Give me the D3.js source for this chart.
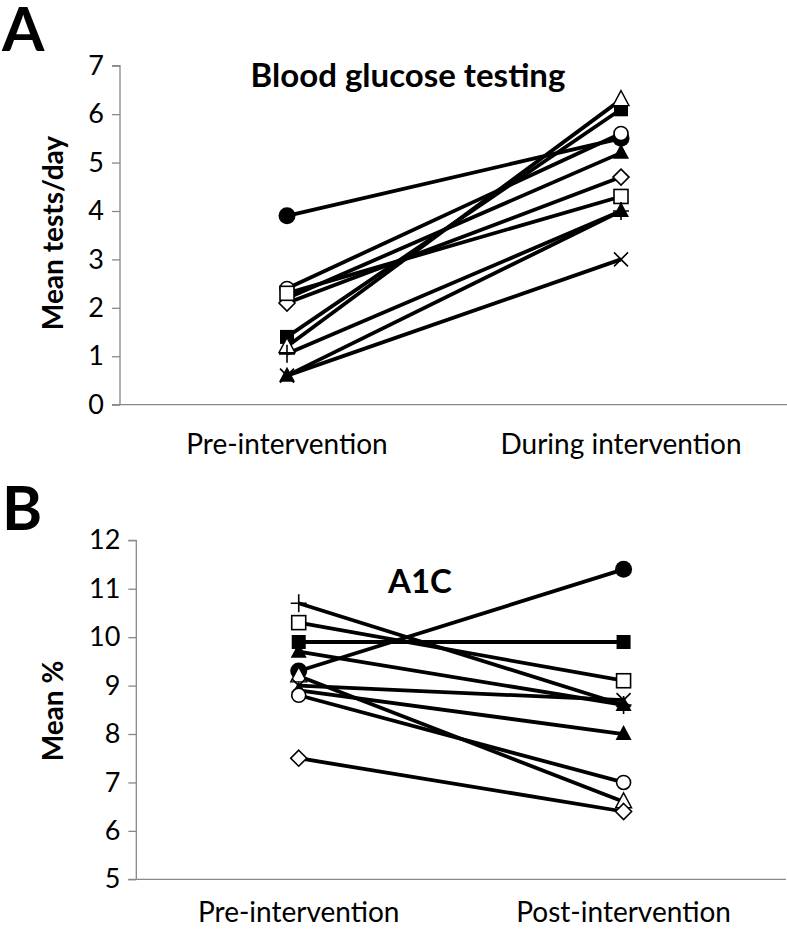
<!DOCTYPE html>
<html><head><meta charset="utf-8">
<script src="https://cdn.jsdelivr.net/npm/d3@7"></script>
<style>body{margin:0;background:#fff}svg{display:block}text{font-family:Lato,"Open Sans",sans-serif}</style>
</head><body><svg id="c" width="787" height="929"></svg>
<script>
// Panel A: blood glucose testing
const catsA = ["Pre-intervention", "During intervention"];
const seriesA = [
  {marker: "filledCircle",   values: [3.9, 5.5]},
  {marker: "openCircle",     values: [2.4, 5.6]},
  {marker: "filledTriangle", values: [2.2, 5.2]},
  {marker: "openDiamond",    values: [2.1, 4.7]},
  {marker: "openSquare",     values: [2.3, 4.3]},
  {marker: "filledSquare",   values: [1.4, 6.1]},
  {marker: "openTriangle",   values: [1.2, 6.3]},
  {marker: "plus",           values: [1.05, 4.0]},
  {marker: "cross",          values: [0.6, 3.0]},
  {marker: "filledTriangle", values: [0.6, 4.0]}
];
const ticksA = [0,1,2,3,4,5,6,7];

// Panel B: A1C
const catsB = ["Pre-intervention", "Post-intervention"];
const seriesB = [
  {marker: "plus",           values: [10.7, 8.6]},
  {marker: "openSquare",     values: [10.3, 9.1]},
  {marker: "filledSquare",   values: [9.9, 9.9]},
  {marker: "filledTriangle", values: [9.7, 8.6]},
  {marker: "filledCircle",   values: [9.3, 11.4]},
  {marker: "openTriangle",   values: [9.2, 6.6]},
  {marker: "cross",          values: [9.0, 8.7]},
  {marker: "filledTriangle", values: [8.9, 8.0]},
  {marker: "openCircle",     values: [8.8, 7.0]},
  {marker: "openDiamond",    values: [7.5, 6.4]}
];
const ticksB = [5,6,7,8,9,10,11,12];

const svg = d3.select("#c");

function drawMarker(g, type, x, y) {
  const s = g.append("g").attr("transform", `translate(${x},${y})`);
  switch (type) {
    case "filledCircle": s.append("circle").attr("r", 8.5).attr("fill", "#000"); break;
    case "openCircle": s.append("circle").attr("r", 7).attr("fill", "#fff").attr("stroke", "#000").attr("stroke-width", 1.6); break;
    case "filledSquare": s.append("rect").attr("x", -7).attr("y", -7).attr("width", 14).attr("height", 14).attr("fill", "#000"); break;
    case "openSquare": s.append("rect").attr("x", -7).attr("y", -7).attr("width", 14).attr("height", 14).attr("fill", "#fff").attr("stroke", "#000").attr("stroke-width", 1.6); break;
    case "filledTriangle": s.append("path").attr("d", "M0,-9L8,6L-8,6Z").attr("fill", "#000"); break;
    case "openTriangle": s.append("path").attr("d", "M0,-9L8,6L-8,6Z").attr("fill", "#fff").attr("stroke", "#000").attr("stroke-width", 1.4); break;
    case "openDiamond": s.append("path").attr("d", "M0,-8L8,0L0,8L-8,0Z").attr("fill", "#fff").attr("stroke", "#000").attr("stroke-width", 1.6); break;
    case "plus": s.append("path").attr("d", "M-8,0H8M0,-9V9").attr("stroke", "#000").attr("stroke-width", 1.6); break;
    case "cross": s.append("path").attr("d", "M-7,-7L7,7M-7,7L7,-7").attr("stroke", "#000").attr("stroke-width", 1.6); break;
  }
}

function panel(opts) {
  const {cats, series, ticks, xRange, yRange, title, titleX, titleY, titleSize, ylabel, ylabelX, ylabelY, letter, letterY, letterSize, catY} = opts;
  const x = d3.scaleBand().domain(cats).range(xRange).padding(0);
  const y = d3.scaleLinear().domain([ticks[0], ticks[ticks.length-1]]).range(yRange);
  const g = svg.append("g");

  // y axis
  const ya = g.append("g").attr("transform", `translate(${xRange[0]},0)`)
    .call(d3.axisLeft(y).tickValues(ticks).tickSize(8).tickPadding(8).tickFormat(d3.format("d")));
  ya.select(".domain").attr("stroke", "#888").attr("stroke-width", 1.3).attr("d", `M-8,${yRange[1]}H0V${yRange[0]}H-8`);
  ya.selectAll(".tick line").attr("stroke", "#888").attr("stroke-width", 1.3);
  ya.selectAll(".tick text").attr("font-size", 27).attr("fill", "#000").attr("font-family", "Lato, sans-serif");

  // x axis
  const xa = g.append("g").attr("transform", `translate(0,${yRange[0]})`)
    .call(d3.axisBottom(x).tickSize(0).tickPadding(18));
  xa.select(".domain").attr("stroke", "#888").attr("stroke-width", 1.3).attr("d", `M${xRange[0]},0H${xRange[1]}`);
  xa.selectAll(".tick text").attr("font-size", 28).attr("fill", "#000").attr("font-family", "Lato, sans-serif").attr("y", catY - yRange[0]).attr("dy", "0");

  // lines
  series.forEach(s => {
    const pts = s.values.map((v, i) => [x(cats[i]) + x.bandwidth()/2, y(v)]);
    g.append("path").attr("d", d3.line()(pts)).attr("fill", "none").attr("stroke", "#000").attr("stroke-width", 3.8);
  });
  series.forEach(s => {
    s.values.forEach((v, i) => drawMarker(g, s.marker, x(cats[i]) + x.bandwidth()/2, y(v)));
  });

  g.append("text").attr("x", titleX).attr("y", titleY).attr("text-anchor", "middle")
    .attr("font-size", titleSize).attr("font-weight", "bold").text(title);
  g.append("text").attr("transform", `translate(${ylabelX},${ylabelY}) rotate(-90)`).attr("text-anchor", "middle")
    .attr("font-size", 28).attr("font-weight", "bold").text(ylabel);
  g.append("text").attr("x", 2).attr("y", letterY).attr("font-size", letterSize).attr("font-weight", "bold")
    .attr("font-family", "'Liberation Sans', Arial, sans-serif").text(letter);
}

panel({cats: catsA, series: seriesA, ticks: ticksA, xRange: [120, 788], yRange: [404.7, 65.7],
  title: "Blood glucose testing", titleX: 408, titleY: 87, titleSize: 33, ylabel: "Mean tests/day", ylabelX: 63, ylabelY: 233,
  letter: "A", letterY: 51, letterSize: 61, catY: 454});
panel({cats: catsB, series: seriesB, ticks: ticksB, xRange: [136.3, 786], yRange: [879.3, 540.3],
  title: "A1C", titleX: 420, titleY: 593, titleSize: 33, ylabel: "Mean %", ylabelX: 63, ylabelY: 711,
  letter: "B", letterY: 530, letterSize: 61, catY: 922});
</script></body></html>
